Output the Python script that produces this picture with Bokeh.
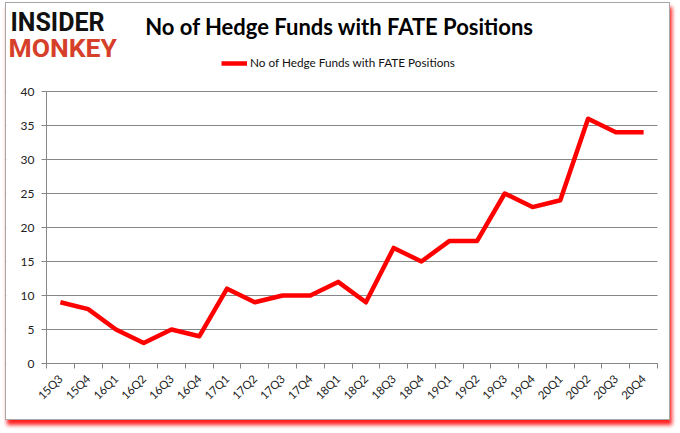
import math
from bokeh.plotting import figure
from bokeh.models import (Label, Legend, LegendItem, FixedTicker, Range1d, BoxAnnotation)
from bokeh.embed import file_html
from bokeh.resources import INLINE

quarters = ["15Q3", "15Q4", "16Q1", "16Q2", "16Q3", "16Q4", "17Q1", "17Q2", "17Q3", "17Q4",
            "18Q1", "18Q2", "18Q3", "18Q4", "19Q1", "19Q2", "19Q3", "19Q4", "20Q1", "20Q2",
            "20Q3", "20Q4"]
funds = [9, 8, 5, 3, 5, 4, 11, 9, 10, 10, 12, 9, 17, 15, 18, 18, 25, 23, 24, 36, 34, 34]
y_ticks = [0, 5, 10, 15, 20, 25, 30, 35, 40]
series_name = "No of Hedge Funds with FATE Positions"

xs = list(range(len(quarters)))

# layout (pixels): the frame covers the whole figure; axes are drawn at fixed locations
W, H = 665, 418
AXIS_Y = 360              # x axis position from the top
AXIS_H = 272              # pixels used by the 0..40 value scale
PLOT_L, PLOT_W = 40, 611  # pixel position/width of the category area
upy = (y_ticks[-1] - y_ticks[0]) / AXIS_H
y_start = -(H - AXIS_Y) * upy
y_end = AXIS_Y * upy
n = len(quarters)
upx = n / PLOT_W
x_lo, x_hi = -0.5, n - 0.5
x_start = x_lo - PLOT_L * upx
x_end = x_hi + (W - PLOT_L - PLOT_W) * upx

p = figure(width=W, height=H, output_backend="svg", toolbar_location=None,
           x_range=Range1d(x_start, x_end), y_range=Range1d(y_start, y_end),
           min_border_left=0, min_border_right=0, min_border_top=0, min_border_bottom=0)
p.styles = {"border": "1px solid #a6a6a6", "box-shadow": "2px 5px 4px #ff2020",
            "margin-left": "5px", "margin-top": "2px"}
p.outline_line_color = None
p.background_fill_color = "white"
p.border_fill_color = "white"

p.xgrid.grid_line_color = None
p.ygrid.grid_line_color = "#868686"
p.ygrid.grid_line_width = 1
p.ygrid.bounds = (y_ticks[0], y_ticks[-1])

# keep the grid lines inside the category area
p.add_layout(BoxAnnotation(right=x_lo, fill_color="white", fill_alpha=1, line_color=None, level="underlay"))
p.add_layout(BoxAnnotation(left=x_hi, fill_color="white", fill_alpha=1, line_color=None, level="underlay"))

r = p.line(xs, funds, line_color="#ff0000", line_width=4.5, line_join="round")

# axes
p.xaxis.fixed_location = y_ticks[0]
p.xaxis.ticker = FixedTicker(ticks=xs, minor_ticks=[i - 0.5 for i in range(n + 1)])
p.xaxis.bounds = (x_lo, x_hi)
p.xaxis.major_label_overrides = {i: q for i, q in enumerate(quarters)}
p.xaxis.major_label_orientation = math.pi / 4
p.xaxis.major_tick_out = 0
p.xaxis.major_tick_in = 0
p.xaxis.minor_tick_out = 5
p.xaxis.minor_tick_in = 0
p.xaxis.minor_tick_line_color = "#868686"
p.xaxis.axis_line_color = "#868686"
p.xaxis.major_label_text_font = "Lato"
p.xaxis.major_label_text_font_size = "11.5px"
p.xaxis.major_label_text_color = "#222222"
p.xaxis.major_label_standoff = 8

p.yaxis.fixed_location = x_lo
p.yaxis.ticker = FixedTicker(ticks=y_ticks)
p.yaxis.bounds = (y_ticks[0], y_ticks[-1])
p.yaxis.minor_tick_line_color = None
p.yaxis.major_tick_out = 5
p.yaxis.major_tick_in = 0
p.yaxis.major_tick_line_color = "#868686"
p.yaxis.axis_line_color = "#868686"
p.yaxis.major_label_text_font = "Lato"
p.yaxis.major_label_text_font_size = "12px"
p.yaxis.major_label_text_color = "#222222"
p.yaxis.major_label_standoff = 7

# legend (screen position relative to the frame's bottom-left)
legend = Legend(items=[LegendItem(label=series_name, renderers=[r])],
                location=(215, 351), orientation="horizontal",
                border_line_color=None, background_fill_alpha=0,
                padding=0, margin=0, glyph_width=26, glyph_height=14,
                label_height=14, label_standoff=3,
                label_text_font="Lato", label_text_font_size="11.75px",
                label_text_color="#111111")
p.add_layout(legend, "center")

# title and logo (screen units relative to the frame's bottom-left)
p.add_layout(Label(x=333, y=395, x_units="screen", y_units="screen",
                   text=series_name, text_align="center", text_baseline="middle",
                   text_font="Lato", text_font_style="bold", text_font_size="22px",
                   text_color="#000000"))
p.add_layout(Label(x=4, y=399, x_units="screen", y_units="screen",
                   text="INSIDER", text_align="left", text_baseline="middle",
                   text_font="Roboto", text_font_style="bold", text_font_size="25px",
                   text_color="#111111"))
p.add_layout(Label(x=2, y=374, x_units="screen", y_units="screen",
                   text="MONKEY", text_align="left", text_baseline="middle",
                   text_font="Roboto", text_font_style="bold", text_font_size="26.5px",
                   text_color="#d63f2a"))

open("out.html", "w").write(file_html(p, INLINE))
